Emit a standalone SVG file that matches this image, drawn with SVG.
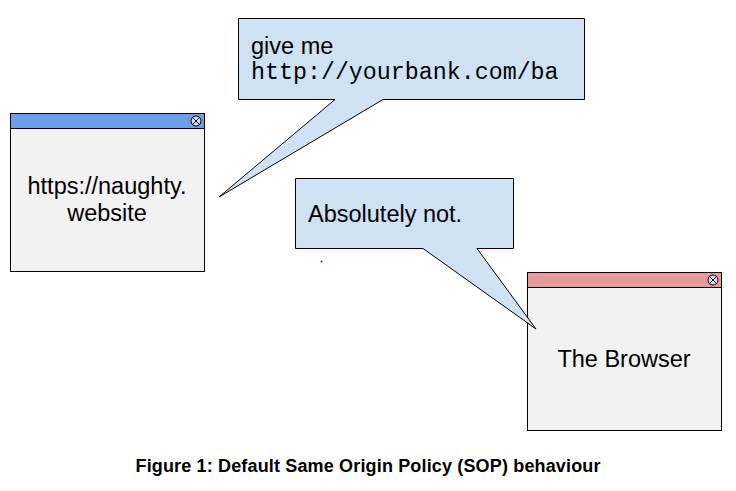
<svg xmlns="http://www.w3.org/2000/svg" width="736" height="491" viewBox="0 0 736 491">
<style>
.win{fill:#f2f2f2;stroke:#000;stroke-width:1}
.bar{stroke:#000;stroke-width:1}
.call{fill:#cfe2f3;stroke:#000;stroke-width:1;stroke-linejoin:miter}
.t{font-family:"Liberation Sans",Arial,sans-serif;font-size:23.5px;fill:#000}
.m{font-family:"Liberation Mono","Courier New",monospace;font-size:23.3px;fill:#000}
.x{fill:#cfe2f3;stroke:#000;stroke-width:1}
</style>
<rect width="736" height="491" fill="#fff"/>
<g id="naughty">
<rect class="win" x="10.5" y="113.5" width="194" height="158"/>
<rect class="bar" x="10.5" y="113.5" width="194" height="15" fill="#6d9eeb"/>
<circle class="x" cx="196" cy="121" r="5"/>
<path d="M192.5 117.5L199.5 124.5M199.5 117.5L192.5 124.5" stroke="#000"/>
<text class="t" x="107" y="194" text-anchor="middle">https://naughty.</text>
<text class="t" x="107" y="221" text-anchor="middle">website</text>
</g>
<g id="browser">
<rect class="win" x="527.5" y="272.5" width="194" height="158"/>
<rect class="bar" x="527.5" y="272.5" width="194" height="15" fill="#ea9999"/>
<circle class="x" cx="713" cy="280" r="5"/>
<path d="M709.5 276.5L716.5 283.5M716.5 276.5L709.5 283.5" stroke="#000"/>
<text class="t" x="624" y="367" text-anchor="middle">The Browser</text>
</g>
<g id="connectors">
<path id="callout1" class="call" d="M238.5 18.5H584.5V99.5H383L219 197L335 99.5H238.5Z"/>
<path id="callout2" class="call" d="M295.5 178.5H513.5V248.5H477L536 329L423 248.5H295.5Z"/>
</g>
<text class="t" x="251" y="54">give me</text>
<text class="m" x="251" y="79">http://yourbank.com/ba</text>
<text class="t" x="308" y="222">Absolutely not.</text>
<circle cx="321.5" cy="261.5" r="1" fill="#3333cc"/>
<text x="368" y="472" text-anchor="middle" font-family="Liberation Sans,Arial,sans-serif" font-size="18" font-weight="bold" textLength="465">Figure 1: Default Same Origin Policy (SOP) behaviour</text>
</svg>
